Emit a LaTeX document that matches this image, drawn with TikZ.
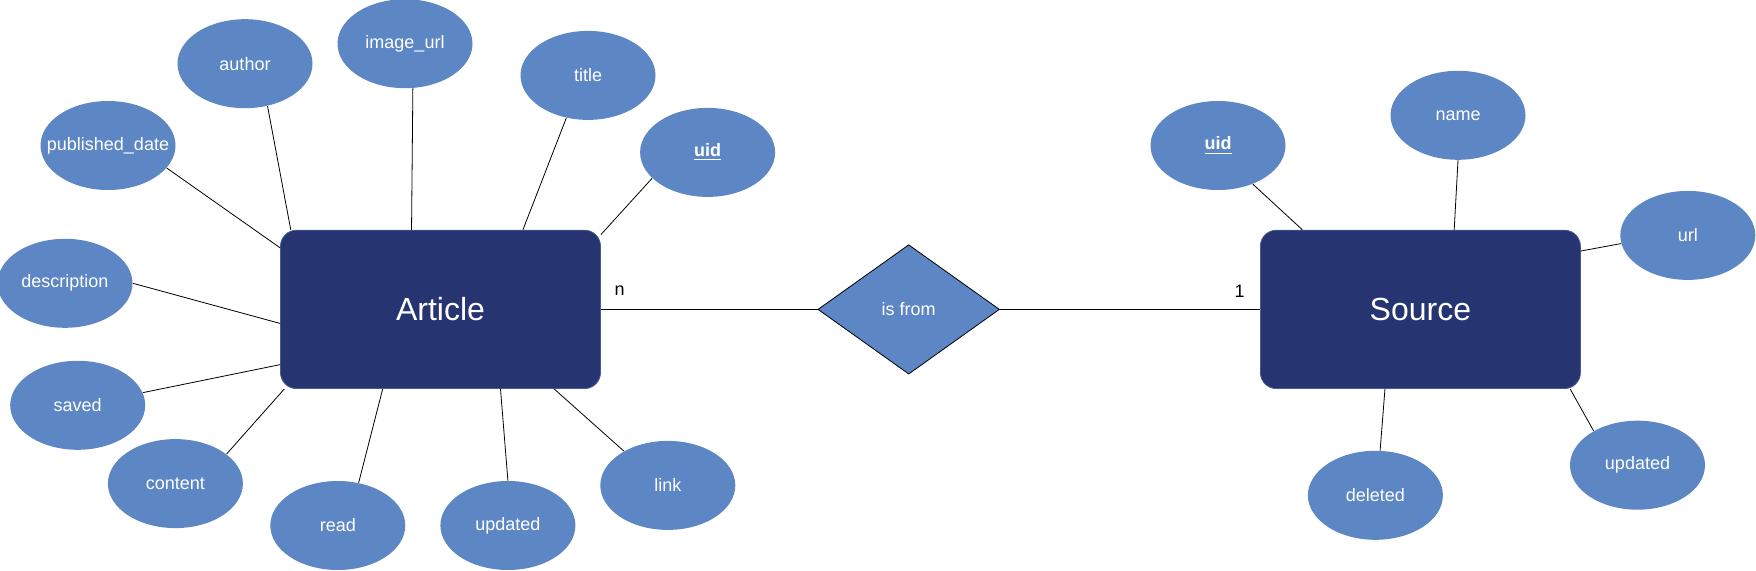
\documentclass[tikz,border=0pt]{standalone}
\usepackage{fontspec}
\setmainfont{Liberation Sans}
\usetikzlibrary{shapes.geometric}

\definecolor{attrblue}{HTML}{5D86C4}
\definecolor{entnavy}{HTML}{263571}
\definecolor{entline}{HTML}{4A5A92}

\tikzstyle{attr} = [ellipse, fill=attrblue, text=white, minimum width=67.5pt, minimum height=44.5pt, inner xsep=-10pt, inner ysep=0, font=\fontsize{9}{11}\selectfont]
\tikzstyle{entity} = [rectangle, rounded corners=8pt, draw=entline, line width=0.4pt, fill=entnavy, text=white, minimum width=160pt, minimum height=79.2pt, inner sep=0, font=\fontsize{16}{19}\selectfont]
\tikzstyle{relation} = [diamond, draw=black, line width=0.4pt, fill=attrblue, text=white, minimum width=90.8pt, minimum height=64.7pt, inner sep=0, font=\fontsize{9}{11}\selectfont]
\tikzstyle{card} = [text centered, inner sep=0, font=\fontsize{9}{11}\selectfont]

\begin{document}
\begin{tikzpicture}[x=0.5pt, y=-0.5pt]
  \useasboundingbox (0,0) rectangle (1756,571);

  \node at ( 440.5, 309.4) [entity] (article) {Article};
  \node at ( 908.7, 309.4) [relation] (isfrom) {is from};
  \node at (1420.4, 309.4) [entity] (source) {Source};

  \node at ( 619.5, 291) [card] (cardn) {n};
  \node at (1239.6, 291) [card] (card1) {1};

  % attributes of article
  \node at (245,  63.7) [attr] (author) {author};
  \node at (405,  43.7) [attr] (imageurl) {image\_url};
  \node at (588,  75.4) [attr] (title) {title};
  \node at (707.6, 152.4) [attr] (auid) {\underline{\textbf{uid}}};
  \node at (108, 145.5) [attr] (pubdate) {published\_date};
  \node at ( 65, 283.3) [attr] (descr) {description};
  \node at ( 77.7, 405.3) [attr] (saved) {saved};
  \node at (175.4, 483.6) [attr] (content) {content};
  \node at (337.8, 525.5) [attr] (read) {read};
  \node at (507.9, 525.5) [attr] (aupdated) {updated};
  \node at (667.8, 485.4) [attr] (link) {link};

  % attributes of source
  \node at (1218, 145.5) [attr] (suid) {\underline{\textbf{uid}}};
  \node at (1458, 115.3) [attr] (name) {name};
  \node at (1687.8, 235.4) [attr] (url) {url};
  \node at (1637.5, 465.2) [attr] (supdated) {updated};
  \node at (1375.4, 495.3) [attr] (deleted) {deleted};

  \path[draw, line width=0.4pt]
     (article) edge (isfrom)
     (isfrom)  edge (source)

     (author.-62)    edge (article.152)
     (imageurl.-80)  edge (article.110)
     (title.243)     edge (article.44)
     (auid.205)      edge (article.25)
     (pubdate.339)   edge (article.159)
     (descr.east)    edge (article.185)
     (saved.11)      edge (article.199)
     (content.30)    edge (article.207)
     (read.64)       edge (article.234)
     (aupdated.north) edge (article.307)
     (link.142)      edge (article.325)

     (suid.312)      edge (source.146.5)
     (name.south)    edge (source.67.4)
     (url.187)       edge (source.20.5)
     (supdated.142.5) edge (source.332)
     (deleted.84)    edge (source.246);
\end{tikzpicture}
\end{document}
